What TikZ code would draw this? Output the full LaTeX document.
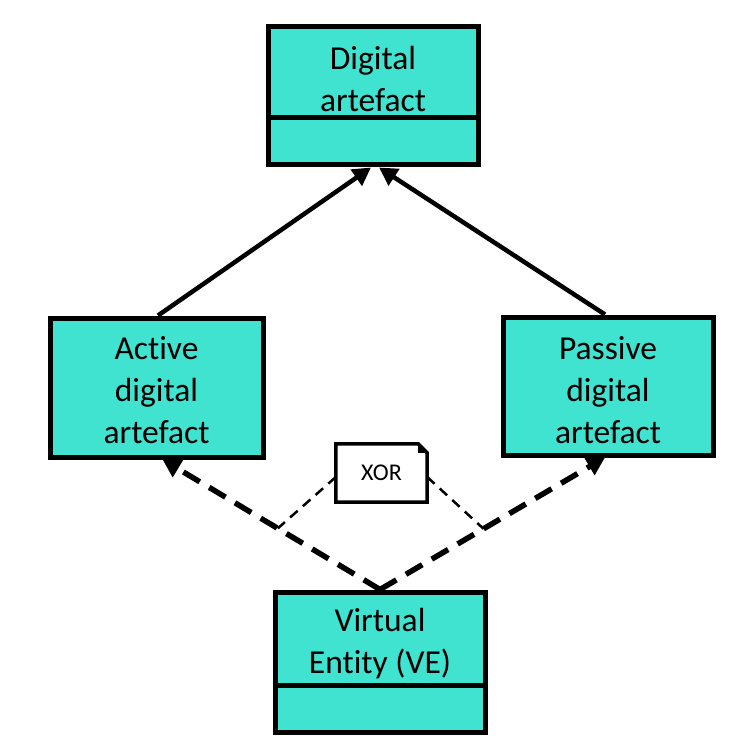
\documentclass[tikz,border=0pt]{standalone}
\usepackage{fontspec}
\setmainfont{Carlito}[Ligatures=NoCommon]
\usetikzlibrary{arrows.meta,calc}
\definecolor{turq}{RGB}{64,226,208}
\tikzset{
  box/.style={draw=black, fill=turq, line width=5pt, rectangle, inner sep=0pt},
  boxtext/.style={align=center, font=\fontsize{33.5}{42}\selectfont, text=black},
  divider/.style={line width=4.5pt},
  genarrow/.style={line width=4.5pt, -{Triangle[length=18pt,width=19pt]}},
  realarrow/.style={line width=5.5pt, dash pattern=on 19pt off 11pt, -{Triangle[length=18pt,width=19pt]}},
  thindash/.style={line width=2.5pt, dash pattern=on 10pt off 7pt},
  notebox/.style={rectangle, inner sep=0pt, font=\fontsize{24}{28}\selectfont}
}
\begin{document}
\begin{tikzpicture}[x=1pt,y=-1pt]
\useasboundingbox[fill=white] (0,0) rectangle (735,754);

% Digital artefact
\node[box, minimum width=210pt, minimum height=138pt] (da) at (373,96) {};
\node[boxtext] (datxt) at (373,79) {Digital\\artefact};
\draw[divider] ($(da.north west)+(0,93)$) coordinate (dal) -- ($(da.north east)+(0,93)$) coordinate (dar);

% Active digital artefact
\node[box, minimum width=213pt, minimum height=139pt] (ada) at (156.5,387.5) {};
\node[boxtext] (adatxt) at (156.5,390) {Active\\digital\\artefact};

% Passive digital artefact
\node[box, minimum width=210pt, minimum height=138pt] (pda) at (608,386) {};
\node[boxtext] (pdatxt) at (608,390) {Passive\\digital\\artefact};

% Virtual Entity
\node[box, minimum width=210pt, minimum height=140pt] (ve) at (380,662) {};
\node[boxtext] (vetxt) at (380,644) {Virtual\\Entity (VE)};
\draw[divider] ($(ve.north west)+(0,96)$) coordinate (vel) -- ($(ve.north east)+(0,96)$) coordinate (ver);

% generalisation arrows
\coordinate (adatop) at ($(ada.north)+(1.5,0)$);
\coordinate (pdatop) at ($(pda.north)+(-3,0)$);
\coordinate (datipl) at ($(da.south)+(-2,0)$);
\coordinate (datipr) at ($(da.south)+(6,0)$);
\draw[genarrow] (adatop) -- (datipl);
\draw[genarrow] (pdatop) -- (datipr);

% realisation (dashed) arrows
\coordinate (adabot) at ($(ada.south)+(6,0)$);
\coordinate (pdabot) at ($(pda.south)+(-3,0)$);
\draw[realarrow] (ve.north) -- (adabot);
\draw[realarrow] (ve.north) -- (pdabot);
\path (ve.north) -- coordinate[pos=0.47] (ml) (adabot);
\path (ve.north) -- coordinate[pos=0.46] (mr) (pdabot);

% XOR note
\node[notebox, minimum width=91pt, minimum height=58pt] (xor) at (381.5,473) {};
\draw[line width=3.5pt, fill=white, line join=miter]
  (xor.north west) -- ($(xor.north east)+(-9,0)$) -- ($(xor.north east)+(0,9)$)
  -- (xor.south east) -- (xor.south west) -- cycle;
\fill[black] ($(xor.north east)+(-9,0)$) -- ($(xor.north east)+(0,9)$) -- ($(xor.north east)+(-9,9)$) -- cycle;
\node[notebox] (xorlabel) at (xor.center) {XOR};
\draw[thindash] ($(xor.west)+(0,4)$) -- (ml);
\draw[thindash] ($(xor.east)+(0,4)$) -- (mr);
\end{tikzpicture}
\end{document}
